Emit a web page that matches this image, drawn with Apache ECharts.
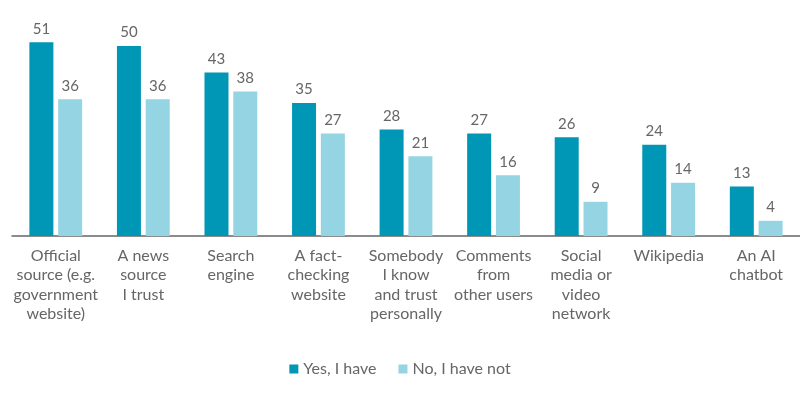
<!DOCTYPE html>
<html>
<head>
<meta charset="utf-8">
<script src="https://cdn.jsdelivr.net/npm/echarts@6/dist/echarts.min.js"></script>
<style>
  html, body { margin: 0; padding: 0; background: #fff; }
  #chart { width: 800px; height: 400px; }
</style>
</head>
<body>
<div id="chart"></div>
<script>
var categories = [
  'Official\nsource (e.g.\ngovernment\nwebsite)',
  'A news\nsource\nI trust',
  'Search\nengine',
  'A fact-\nchecking\nwebsite',
  'Somebody\nI know\nand trust\npersonally',
  'Comments\nfrom\nother users',
  'Social\nmedia or\nvideo\nnetwork',
  'Wikipedia',
  'An AI\nchatbot'
];
var yesValues = [51, 50, 43, 35, 28, 27, 26, 24, 13];
var noValues = [36, 36, 38, 27, 21, 16, 9, 14, 4];

var chart = echarts.init(document.getElementById('chart'));
var font = 'Lato';
var labelStyle = {
  show: true,
  position: 'top',
  distance: 6,
  color: '#666',
  fontFamily: font,
  fontSize: 15
};

chart.setOption({
  animation: false,
  textStyle: { fontFamily: font },
  grid: { left: 12, right: 0, top: 8, bottom: 164 },
  legend: {
    bottom: 18,
    left: 'center',
    itemWidth: 9,
    itemHeight: 9,
    itemGap: 22,
    icon: 'rect',
    textStyle: { color: '#666', fontSize: 16, fontFamily: font },
    data: ['Yes, I have', 'No, I have not']
  },
  xAxis: {
    type: 'category',
    data: categories,
    axisLine: { lineStyle: { color: '#666', width: 1.5 } },
    axisTick: { show: false },
    axisLabel: {
      interval: 0,
      margin: 10,
      color: '#666',
      fontSize: 16,
      lineHeight: 19.5,
      fontFamily: font
    }
  },
  yAxis: {
    type: 'value',
    min: 0,
    max: 60,
    show: false,
    splitLine: { show: false }
  },
  series: [
    {
      name: 'Yes, I have',
      type: 'bar',
      data: yesValues,
      barWidth: 24,
      barGap: '20%',
      itemStyle: { color: '#0096b6' },
      label: labelStyle
    },
    {
      name: 'No, I have not',
      type: 'bar',
      data: noValues,
      barWidth: 24,
      itemStyle: { color: '#95d4e2' },
      label: labelStyle
    }
  ]
});
</script>
</body>
</html>
